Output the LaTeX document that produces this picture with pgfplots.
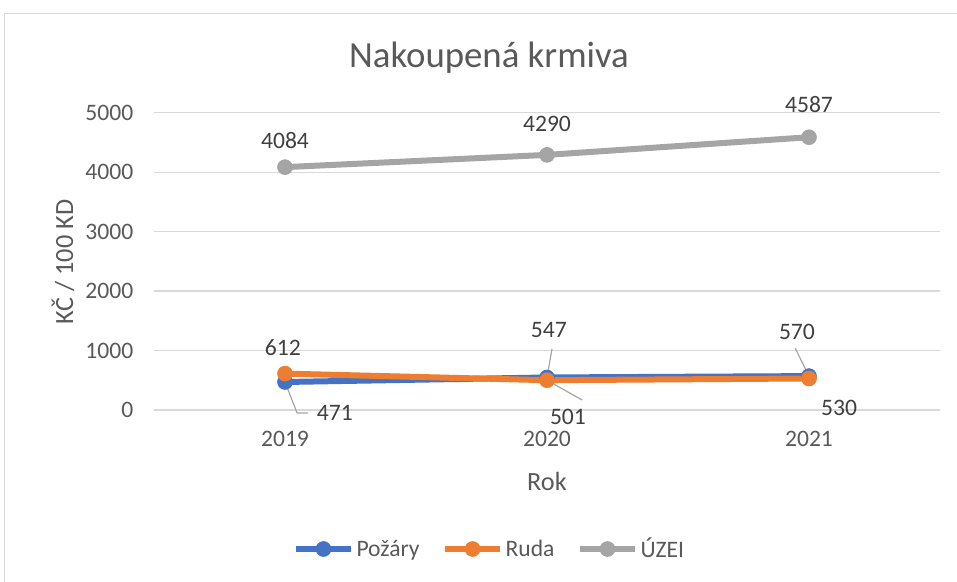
\documentclass[border=0pt]{standalone}
\usepackage{fontspec}
\setmainfont{Carlito}
\usepackage{pgfplots}
\pgfplotsset{compat=1.18}
\definecolor{cblue}{HTML}{4472C4}
\definecolor{corange}{HTML}{ED7D31}
\definecolor{cgray}{HTML}{A5A5A5}
\definecolor{txt}{HTML}{595959}
\definecolor{lbltxt}{HTML}{404040}
\definecolor{gridc}{HTML}{D9D9D9}
\definecolor{leader}{HTML}{A6A6A6}
\newcommand{\tickfont}{\fontsize{17.7}{21}\selectfont}
\tikzset{lbl/.style={font=\tickfont,text=lbltxt,inner sep=0pt}}
\begin{document}
\begin{tikzpicture}[x=0.75pt,y=0.75pt]
\useasboundingbox (0,0) rectangle (957,582);
\draw[gridc,line width=0.9pt] (4.5,-20) -- (4.5,568.5) -- (990,568.5);
\node[txt,font=\fontsize{27.6}{32}\selectfont] at (489,524) {Nakoupená krmiva};
\begin{axis}[at={(115.5pt,129pt)},anchor=south west,scale only axis,
 width=589.5pt,height=223pt,
 xmin=-0.5,xmax=2.5,ymin=0,ymax=5000,
 xtick={0,1,2},xticklabels={2019,2020,2021},
 ytick={0,1000,...,5000},
 scaled y ticks=false,
 yticklabel={\pgfmathprintnumber[assume math mode=true,1000 sep={}]{\tick}},
 tick label style={font=\tickfont,text=txt},
 xticklabel style={yshift=-12pt},
 yticklabel style={xshift=-12pt},
 axis x line*=bottom,axis y line*=left,axis line style={draw=none},
 tick style={draw=none},
 ymajorgrids,grid style={gridc,line width=0.9pt},
 clip=false,
 legend style={at={(0.4275,-0.4675)},anchor=center,draw=none,fill=none,
  legend columns=3,font=\tickfont,text=txt,cells={anchor=west},
  /tikz/every even column/.append style={column sep=15pt}},
 legend image code/.code={\draw[mark repeat=2,mark phase=2,#1] plot coordinates {(0pt,0pt)(20.5pt,0pt)(41pt,0pt)};},
 every axis plot/.append style={line width=4.5pt,mark=*,mark size=5.6pt},
 ]
\addplot[cblue,mark options={fill=cblue,draw=cblue,line width=0.5pt}] coordinates {(0,471) (1,547) (2,570)};
\addlegendentry{Požáry}
\addplot[corange,mark options={fill=corange,draw=corange,line width=0.5pt}] coordinates {(0,612) (1,501) (2,530)};
\addlegendentry{Ruda}
\addplot[cgray,mark options={fill=cgray,draw=cgray,line width=0.5pt}] coordinates {(0,4084) (1,4290) (2,4587)};
\addlegendentry{ÚZEI}
% leader lines
\draw[leader,line width=0.9pt] (axis cs:0,471) -- (axis cs:0.046,-50) -- (axis cs:0.088,-50);
\draw[leader,line width=0.9pt] (axis cs:1.019,1025) -- (axis cs:1,547);
\draw[leader,line width=0.9pt] (axis cs:1,501) -- (axis cs:1.134,168);
\draw[leader,line width=0.9pt] (axis cs:1.947,1042) -- (axis cs:2,570);
% data labels
\node[lbl] at (axis cs:0,4538) {4084};
\node[lbl] at (axis cs:1,4805) {4290};
\node[lbl] at (axis cs:2,5141) {4587};
\node[lbl] at (axis cs:0.19,-50) {471};
\node[lbl] at (axis cs:1.007,1344) {547};
\node[lbl] at (axis cs:1.954,1310) {570};
\node[lbl] at (axis cs:-0.008,1042) {612};
\node[lbl] at (axis cs:1.08,-110) {501};
\node[lbl] at (axis cs:2.115,34) {530};
\end{axis}
\node[txt,rotate=90,font=\fontsize{19.7}{23}\selectfont] at (63,320) {KČ / 100 KD};
\node[txt,font=\fontsize{19.7}{23}\selectfont] at (547,101) {Rok};
\end{tikzpicture}
\end{document}
